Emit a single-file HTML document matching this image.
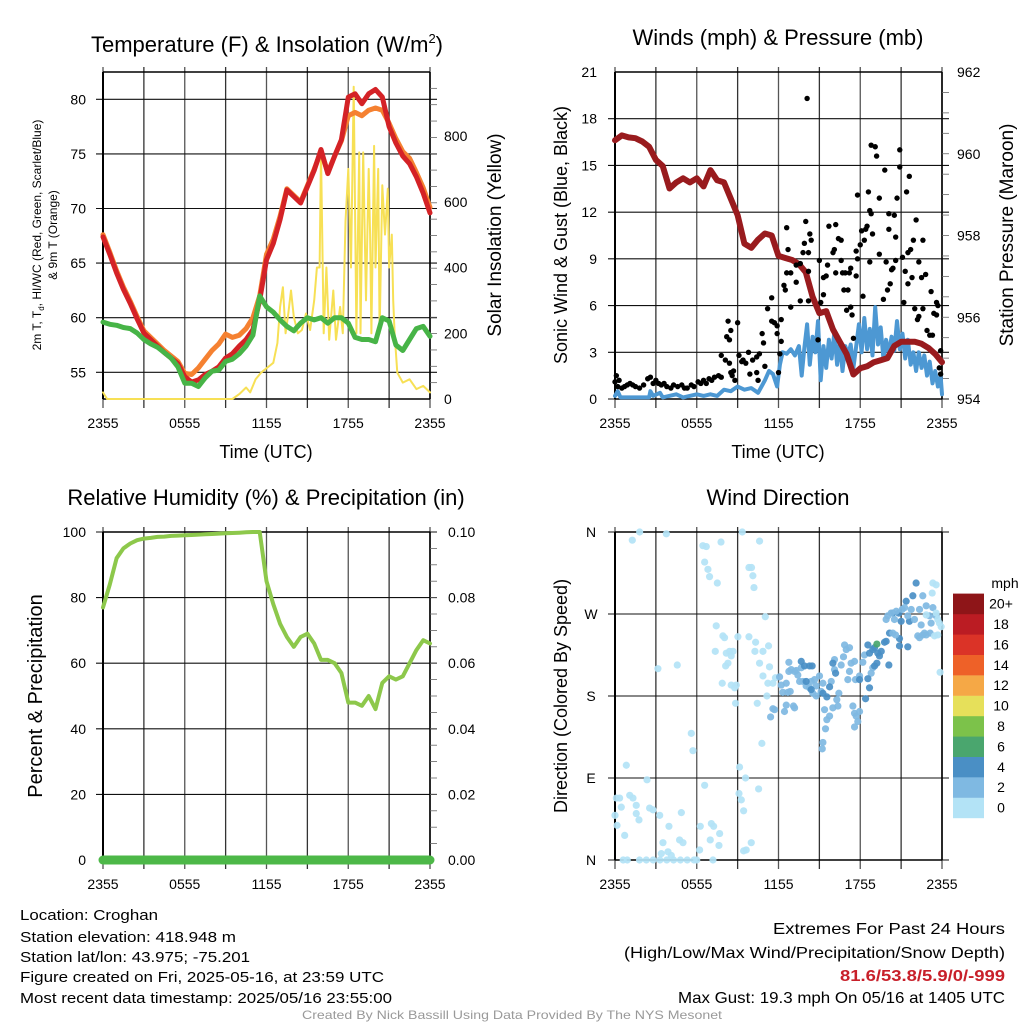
<!DOCTYPE html>
<html><head><meta charset="utf-8"><style>
html,body{margin:0;padding:0;background:#fff;}
svg text{font-family:"Liberation Sans",sans-serif;fill:#000;}
</style></head><body>
<svg id="c" xmlns="http://www.w3.org/2000/svg" width="1024" height="1024" viewBox="0 0 1024 1024">
<rect width="1024" height="1024" fill="#fff"/>
<g id="g"></g>
<text x="267" y="52" font-size="22" text-anchor="middle">Temperature (F) &amp; Insolation (W/m<tspan font-size="13" dy="-9">2</tspan><tspan dy="9">)</tspan></text>
<text x="778" y="45" font-size="22" text-anchor="middle">Winds (mph) &amp; Pressure (mb)</text>
<text x="266" y="505" font-size="22" text-anchor="middle">Relative Humidity (%) &amp; Precipitation (in)</text>
<text x="778" y="505" font-size="22" text-anchor="middle">Wind Direction</text>
<text x="266" y="458" font-size="18" text-anchor="middle">Time (UTC)</text>
<text x="778" y="458" font-size="18" text-anchor="middle">Time (UTC)</text>
<text transform="translate(41,235) rotate(-90)" font-size="12" text-anchor="middle">2m T, T<tspan font-size="8" dy="3">d</tspan><tspan dy="-3">, HI/WC (Red, Green, Scarlet/Blue)</tspan></text>
<text transform="translate(57,235) rotate(-90)" font-size="12" text-anchor="middle">&amp; 9m T (Orange)</text>
<text transform="translate(501,235) rotate(-90)" font-size="19" text-anchor="middle">Solar Insolation (Yellow)</text>
<text transform="translate(567,235) rotate(-90)" font-size="18" text-anchor="middle">Sonic Wind &amp; Gust (Blue, Black)</text>
<text transform="translate(1013,235) rotate(-90)" font-size="19" text-anchor="middle">Station Pressure (Maroon)</text>
<text transform="translate(42,696) rotate(-90)" font-size="20" text-anchor="middle">Percent &amp; Precipitation</text>
<text transform="translate(567,696) rotate(-90)" font-size="18" text-anchor="middle">Direction (Colored By Speed)</text>
<text x="1005" y="588" font-size="14" text-anchor="middle">mph</text>
<g font-size="15">
<text x="20" y="920" textLength="138" lengthAdjust="spacingAndGlyphs">Location: Croghan</text>
<text x="20" y="942" textLength="216" lengthAdjust="spacingAndGlyphs">Station elevation: 418.948 m</text>
<text x="20" y="962" textLength="230" lengthAdjust="spacingAndGlyphs">Station lat/lon: 43.975; -75.201</text>
<text x="20" y="982" textLength="364" lengthAdjust="spacingAndGlyphs">Figure created on Fri, 2025-05-16, at 23:59 UTC</text>
<text x="20" y="1003" textLength="372" lengthAdjust="spacingAndGlyphs">Most recent data timestamp: 2025/05/16 23:55:00</text>
</g>
<g font-size="16">
<text x="773" y="934" textLength="232" lengthAdjust="spacingAndGlyphs">Extremes For Past 24 Hours</text>
<text x="624" y="958" textLength="381" lengthAdjust="spacingAndGlyphs">(High/Low/Max Wind/Precipitation/Snow Depth)</text>
<text x="840" y="981" textLength="165" lengthAdjust="spacingAndGlyphs" font-weight="bold" style="fill:#c8202a">81.6/53.8/5.9/0/-999</text>
<text x="678" y="1003" textLength="327" lengthAdjust="spacingAndGlyphs">Max Gust: 19.3 mph On 05/16 at 1405 UTC</text>
</g>
<text x="302" y="1019" font-size="12" textLength="420" lengthAdjust="spacingAndGlyphs" style="fill:#999">Created By Nick Bassill Using Data Provided By The NYS Mesonet</text>
</svg>
<script>
const timeTicks = ["2355","0555","1155","1755","2355"];
const tempRed = [67.4,65.8,64.1,62.6,61.3,59.9,58.6,58.0,57.4,56.8,56.3,55.8,54.6,54.1,54.3,54.8,55.1,55.5,56.3,56.7,57.4,58.0,58.9,61.6,65.3,66.8,69.0,71.7,71.1,70.5,72.0,73.5,75.4,73.2,74.8,76.3,80.2,80.5,79.6,80.5,80.9,80.2,77.5,76.0,74.8,74.1,72.9,71.4,69.6];
const temp9m = [67.6,66.0,64.3,62.8,61.5,60.1,58.8,58.2,57.6,57.0,56.5,56.0,54.9,54.8,55.4,56.2,57.0,57.6,58.5,58.2,58.4,59.0,60.0,62.0,65.8,67.2,69.3,71.8,71.2,70.6,72.1,73.6,75.2,73.3,74.8,76.2,78.5,78.8,78.5,79.0,79.2,79.0,77.8,76.4,75.2,74.6,73.3,71.9,70.1];
const dewGreen = [59.6,59.4,59.3,59.1,59.0,58.6,58.0,57.6,57.3,56.8,56.3,55.5,54.0,54.0,53.7,54.5,55.1,55.2,56.0,56.2,56.7,57.4,58.4,62.0,61.0,60.5,59.8,59.2,58.8,59.5,60.0,59.8,60.0,59.5,60.0,60.0,59.5,58.2,58.0,58.0,57.8,60.0,59.7,57.5,57.0,58.0,59.0,59.2,58.3];
const solarHours = [0,0.3,9.5,10,10.5,10.8,11.2,11.6,11.9,12.2,12.5,12.8,13.0,13.2,13.4,13.6,13.8,14.0,14.3,14.6,14.9,15.2,15.5,15.7,15.9,16.0,16.2,16.4,16.6,16.9,17.1,17.4,17.6,17.8,18.0,18.2,18.4,18.6,18.8,18.9,19.1,19.3,19.5,19.6,19.7,19.9,20.0,20.2,20.3,20.5,20.7,20.9,21.0,21.2,21.3,21.4,21.6,22,22.5,23,23.5,24];
const solarValues = [20,0,0,15,35,20,60,80,90,100,110,170,280,340,200,260,330,250,200,210,260,210,300,400,400,750,200,400,180,330,180,280,200,540,700,400,950,200,750,200,750,300,700,500,200,770,400,700,200,650,500,640,400,500,300,200,80,50,60,30,40,20];
const pressure = [960.33,960.45,960.4,960.38,960.3,960.17,959.85,959.7,959.15,959.3,959.4,959.3,959.4,959.2,959.6,959.35,959.3,958.9,958.5,957.8,957.7,957.9,958.05,958.0,957.5,957.45,957.4,957.3,957.1,956.5,956.1,956.15,955.7,955.4,955.1,954.6,954.75,954.8,954.9,954.95,955.0,955.3,955.4,955.4,955.4,955.35,955.25,955.1,954.9];
const windHours = [0,0.2,0.4,2.5,2.6,2.8,3.3,3.5,4.5,5,6,6.5,7,7.5,8,8.5,9,9.5,10,10.5,11,11.3,11.6,11.9,12.1,12.3,12.6,12.9,13.2,13.5,13.7,13.9,14.1,14.3,14.5,14.7,14.9,15.1,15.3,15.5,15.7,15.9,16.1,16.3,16.5,16.7,16.9,17.1,17.3,17.5,17.7,17.9,18.1,18.3,18.5,18.7,18.9,19.1,19.3,19.5,19.7,19.9,20.1,20.3,20.5,20.7,20.9,21.1,21.3,21.5,21.7,21.9,22.1,22.3,22.5,22.7,22.9,23.1,23.3,23.5,23.7,23.9,24];
const windSpeed = [0.2,0.5,0.1,0.1,0.5,0.2,0.4,0.1,0.3,0.1,0.3,0.2,0.3,0.2,0.6,0.5,0.8,0.6,0.7,0.4,1.2,1.8,1.6,0.8,2.2,3.0,2.9,3.2,2.8,3.4,1.5,3.3,4.8,2.2,4.0,3.0,5.0,1.2,3.4,2.0,3.8,2.6,4.3,2.2,3.6,1.8,3.4,2.8,3.5,2.0,3.4,4.8,3.0,5.2,3.2,4.5,2.8,5.9,3.5,4.6,2.6,3.8,2.9,4.0,3.1,5.0,3.2,4.2,2.6,3.8,2.2,3.0,1.8,3.0,2.0,2.8,1.5,2.4,1.0,1.8,0.8,1.5,0.3];
const gustHours = [0,0.1,0.2,0.3,0.5,0.7,0.9,1.1,1.3,1.5,1.8,2.1,2.4,2.6,2.8,3.0,3.2,3.4,3.6,3.8,4.1,4.3,4.6,4.9,5.1,5.3,5.6,5.8,6.1,6.3,6.5,6.7,6.9,7.1,7.3,7.6,7.8,7.8,8.1,8.2,8.3,8.4,8.4,8.5,8.5,8.6,8.7,8.8,9.0,9.1,9.3,9.4,9.6,9.8,9.9,10.1,10.4,10.4,10.5,10.6,10.8,10.9,11.0,11.2,11.5,11.5,11.7,11.9,11.9,12.0,12.1,12.2,12.2,12.4,12.5,12.6,12.6,12.7,12.9,12.9,13.3,13.3,13.6,13.6,13.8,13.9,14.0,14.1,14.2,14.2,14.2,14.3,14.4,14.9,15.0,15.1,15.3,15.3,15.5,15.6,15.7,16.0,16.1,16.2,16.2,16.4,16.6,16.6,16.7,16.8,16.9,17.0,17.1,17.2,17.3,17.3,17.4,17.5,17.7,17.7,17.8,17.8,18.0,18.1,18.2,18.3,18.4,18.5,18.6,18.7,18.7,18.8,18.8,18.9,19.1,19.2,19.4,19.4,19.7,19.8,19.9,20.0,20.1,20.1,20.2,20.3,20.4,20.5,20.6,20.6,20.7,20.9,20.9,21.1,21.2,21.3,21.4,21.5,21.5,21.6,21.7,21.8,21.9,22.0,22.1,22.2,22.3,22.3,22.5,22.6,22.6,22.8,22.9,23.1,23.2,23.3,23.4,23.6,23.6,23.7,23.8,23.9,23.9];
const gustSpeed = [1.1,1.5,0.8,1.2,0.7,0.8,0.9,1.0,0.9,0.8,0.7,0.9,1.3,1.4,1.0,1.2,1.0,0.9,1.0,0.8,0.7,0.9,0.8,0.9,0.7,0.7,0.9,0.8,1.1,1.0,1.2,1.0,1.3,1.2,1.4,1.5,1.4,2.8,2.5,4.0,5.0,2.3,3.8,1.7,4.4,1.5,1.8,1.2,4.9,2.8,2.4,2.5,2.3,3.0,1.6,2.5,2.7,1.7,1.2,2.9,4.2,3.6,2.1,5.8,6.5,5.0,4.9,4.7,4.2,1.7,2.9,5.1,3.7,7.3,7.0,8.1,11.0,9.6,8.1,5.9,7.5,8.6,8.7,6.3,9.4,10.0,11.4,19.3,8.2,9.4,6.3,10.6,10.2,3.8,8.9,6.2,6.7,7.8,7.9,8.6,11.1,9.4,9.6,11.2,8.1,10.3,10.2,8.9,8.1,7.0,8.1,5.7,7.0,8.1,5.9,8.4,5.4,3.9,7.9,9.5,9.0,13.1,9.9,10.8,6.6,10.2,10.9,11.1,13.3,12.1,8.8,11.9,16.3,10.6,16.2,15.6,9.3,12.9,6.4,14.7,8.8,7.0,10.9,11.9,7.4,8.3,8.4,11.8,10.4,8.9,12.9,16.0,14.9,9.1,6.2,8.2,13.3,9.4,7.4,14.3,9.6,7.8,10.2,5.8,11.5,5.1,5.3,8.8,7.8,10.2,5.8,8.0,4.4,4.1,6.9,4.1,5.5,6.2,5.4,6.0,2.0,3.1,1.6];
const rhValues = [77,84,92,95,96.5,97.5,98,98.2,98.5,98.6,98.8,98.9,99,99.1,99.2,99.3,99.4,99.5,99.6,99.7,99.8,99.9,100,100,85,78,72,68,65,68,69,66,61,61,60,57,48,48,47,50,46,54,56,55,56,60,64,67,66];
const precipValues = [0,0,0,0,0,0,0,0,0,0,0,0,0,0,0,0,0,0,0,0,0,0,0,0,0];
const dirHours = [1.27,1.81,3.77,0.83,2.35,0.1,0.34,1.08,1.32,1.56,0.46,0,0.15,0.71,1.56,1.76,2.54,2.79,3.28,3.96,3.52,3.4,3.89,4.13,4.74,4.99,4.87,5.6,5.72,6.26,6.21,6.58,7.07,7.24,7.68,6.99,7.63,7.19,0.6,0.9,1.8,2.3,2.8,3.3,3.8,4.3,4.8,5.3,5.8,6.0,6.45,6.7,6.58,6.82,6.94,7.51,7.78,3.15,4.57,7.43,7.92,8.04,7.36,8.17,8.41,8.66,8.53,8.12,8.29,7.87,8.53,8.78,8.9,8.85,9.02,9.34,9.83,10.02,10.12,10.2,10.61,9.83,10.32,10.27,10.86,10.61,11.34,11.27,11.03,9.14,9.58,9.1,9.27,9.44,10.54,10.44,10.0,9.63,9.44,10.78,10.86,11.22,11.15,11.78,11.59,
11.42,11.59,11.71,12.44,12.57,12.32,12.69,12.86,12.57,12.08,12.2,12.76,12.93,13.18,12.76,13.3,13.42,13.67,13.55,13.79,14.03,14.28,14.4,14.65,14.77,14.52,14.77,15.13,15.26,15.01,13.1,13.18,15.38,15.55,15.45,15.26,15.21,15.75,15.99,16.36,16.28,16.43,15.87,16.11,16.11,16.6,16.77,16.97,16.85,17.21,17.33,17.21,17.09,17.65,17.58,17.95,18.19,18.31,17.46,17.58,17.7,17.95,17.82,17.58,18.8,18.92,
13.67,13.91,14.28,14.47,14.03,14.4,15.26,15.55,15.75,15.99,16.19,17.95,18.56,18.68,18.39,18.68,18.92,19.05,19.22,19.41,19.54,19.78,19.9,20.1,20.15,20.39,20.83,21.0,21.61,21.37,21.86,22.1,20.88,20.88,21.49,18.56,19.05,19.29,
19.22,
19.9,20.02,20.27,20.64,20.51,21.25,21.49,21.98,22.35,22.59,22.84,23.08,23.33,23.57,22.47,22.71,22.59,22.35,22.22,22.84,23.13,23.2,20.39,20.59,21.08,21.74,
23.33,23.57,23.28,22.84,23.57,23.69,23.81,23.94,23.45,23.69,23.86];
const dirValues = [351,360,358,104,88,68,68,71,68,60,58,49,38,27,51,44,57,55,49,37,19,7,9,5,22,19,52,139,120,37,11,82,40,37,29,22,16,0,0,0,0,0,0,0,0,0,0,0,0,0,345,344,327,319,311,304,349,210,214,257,246,244,229,227,229,229,224,213,216,194,192,189,192,172,245,360,321,321,312,299,350,245,239,229,229,216,212,235,267,102,90,73,66,54,78,172,19,11,10,128,202,194,180,200,194,
157,166,165,163,170,184,184,185,194,201,192,207,209,207,217,208,203,211,196,196,191,189,196,198,191,183,180,185,194,202,169,167,165,154,144,129,122,158,167,169,176,183,196,209,220,214,223,231,236,233,216,207,198,198,218,202,217,225,169,161,158,163,152,146,205,211,
218,213,213,213,196,187,183,179,190,216,205,198,199,189,177,227,231,213,216,224,229,239,240,214,249,271,271,262,262,284,290,304,243,235,234,236,233,227,
237,
264,268,271,273,264,277,268,264,275,290,279,268,277,268,258,249,247,244,246,247,249,260,249,247,275,275,
304,302,293,269,271,264,260,256,246,247,206];
const dirSpeed = [0.5,0.5,0.5,0.5,0.5,0.5,0.5,0.5,0.5,0.5,0.5,0.5,0.5,0.5,0.5,0.5,0.5,0.5,0.5,0.5,0.5,0.5,0.5,0.5,0.5,0.5,0.5,0.5,0.5,0.5,0.5,0.5,0.5,0.5,0.5,0.5,0.5,0.5,0.5,0.5,0.5,0.5,0.5,0.5,0.5,0.5,0.5,0.5,0.5,0.5,0.5,0.5,0.5,0.5,0.5,0.5,0.5,0.5,0.5,0.5,0.5,0.5,0.5,0.5,0.5,0.5,0.5,0.5,0.5,0.5,0.5,0.5,0.5,0.5,0.5,0.5,0.5,0.5,0.5,0.5,0.5,0.5,0.5,0.5,0.5,0.5,0.5,0.5,0.5,0.5,0.5,0.5,0.5,0.5,0.5,0.5,0.5,0.5,0.5,0.5,0.5,0.5,0.5,0.5,0.5,
2.5,2.5,2.5,2.5,2.5,2.5,2.5,2.5,2.5,2.5,2.5,2.5,2.5,2.5,2.5,2.5,2.5,2.5,2.5,2.5,2.5,2.5,2.5,2.5,2.5,2.5,2.5,2.5,2.5,2.5,2.5,2.5,2.5,2.5,2.5,2.5,2.5,2.5,2.5,2.5,2.5,2.5,2.5,2.5,2.5,2.5,2.5,2.5,2.5,2.5,2.5,2.5,2.5,2.5,2.5,2.5,2.5,2.5,2.5,2.5,2.5,2.5,2.5,2.5,2.5,2.5,
4.5,4.5,4.5,4.5,4.5,4.5,4.5,4.5,4.5,4.5,4.5,4.5,4.5,4.5,4.5,4.5,4.5,4.5,4.5,4.5,4.5,4.5,4.5,4.5,4.5,4.5,4.5,4.5,4.5,4.5,4.5,4.5,4.5,4.5,4.5,4.5,4.5,4.5,
6.5,
2.5,2.5,2.5,2.5,2.5,2.5,2.5,2.5,2.5,2.5,2.5,2.5,2.5,2.5,2.5,2.5,2.5,2.5,2.5,2.5,2.5,2.5,2.5,2.5,2.5,2.5,
0.5,0.5,0.5,0.5,0.5,0.5,0.5,0.5,0.5,0.5,0.5];
const speedLevels = ["0","2","4","6","8","10","12","14","16","18","20+"];
const speedColors = ["#b3e3f6","#7fb9e2","#4a8fc5","#4aa66e","#7cc24a","#e6e05a","#f5a846","#ee6128","#db3327","#bb1c23","#8e1518"];

const NS="http://www.w3.org/2000/svg";
const G=document.getElementById('g');
function el(tag,attrs,parent){const e=document.createElementNS(NS,tag);for(const k in attrs)e.setAttribute(k,attrs[k]);(parent||G).appendChild(e);return e;}
function txt(x,y,s,size,anchor,parent){const t=el('text',{x:x,y:y,'font-size':size,'text-anchor':anchor},parent);t.textContent=s;return t;}

function panel(x0,y0,x1,y1){
  return {x0,y0,x1,y1,
    x:h=>x0+h*(x1-x0)/24,
    y:(v,lo,hi)=>y1-(v-lo)/(hi-lo)*(y1-y0)};
}
function frame(P,name,hLines){
  const g=el('g',{});
  
  
  for(let i=0;i<=8;i++){const xx=P.x(i*3);
    el('line',{x1:xx,x2:xx,y1:P.y0-5,y2:P.y1+9,stroke:i%2?'#333':'#555','stroke-width':1.3},g);}
  hLines.forEach(yy=>el('line',{x1:P.x0-7,x2:P.x1+7,y1:yy,y2:yy,stroke:'#111','stroke-width':1.1},g));
  el('line',{x1:P.x0,x2:P.x1,y1:P.y0,y2:P.y0,stroke:'#000','stroke-width':1.4},g);
  el('line',{x1:P.x0,x2:P.x1,y1:P.y1,y2:P.y1,stroke:'#000','stroke-width':1.4},g);
  el('line',{x1:P.x0,x2:P.x0,y1:P.y0,y2:P.y1,stroke:'#000','stroke-width':2},g);
  el('line',{x1:P.x1,x2:P.x1,y1:P.y0,y2:P.y1,stroke:'#000','stroke-width':1.6},g);
  timeTicks.forEach((t,i)=>{const tt=txt(P.x(i*6),P.y1+29,t,14,'middle',g);
    
    });
  return g;
}
function minorRight(P,n){const g=el('g',{});for(let i=1;i<n;i++){const yy=P.y0+i*(P.y1-P.y0)/n;el('line',{x1:P.x1,x2:P.x1+7,y1:yy,y2:yy,stroke:'#666','stroke-width':0.8},g);}}
function path(pts,color,w,name){
  const p=el('path',{d:'M'+pts.map(p=>p[0].toFixed(1)+','+p[1].toFixed(1)).join('L'),fill:'none',stroke:color,'stroke-width':w,'stroke-linejoin':'round','stroke-linecap':'round'});
  
  
  return p;
}
function series(P,arr,lo,hi){const n=arr.length;return arr.map((v,i)=>[P.x(i*24/(n-1)),P.y(v,lo,hi)]);}

// Panel 1
const P1=panel(103,72,430,399);
const T_LO=80-(399-99.3)/10.92*1, T_HI=T_LO+(399-72)/10.92;
const S_HI=800*(399-72)/263;
const t1=[55,60,65,70,75,80];
frame(P1,'temperature',t1.map(v=>P1.y(v,T_LO,T_HI)));
minorRight(P1,Math.round(S_HI/50));
t1.forEach(v=>{const t=txt(86,P1.y(v,T_LO,T_HI)+5,String(v),14,'end');
  
  });
[0,200,400,600,800].forEach(v=>{const t=txt(444,P1.y(v,0,S_HI)+5,String(v),14,'start');
  
  });
path(solarHours.map((h,i)=>[P1.x(h),P1.y(solarValues[i],0,S_HI)]),'#f7e055',2,'insolation-line');
path(series(P1,temp9m,T_LO,T_HI),'#f58131',5,'temp-9m-line');
path(series(P1,tempRed,T_LO,T_HI),'#d42226',5,'temp-2m-line');
path(series(P1,dewGreen,T_LO,T_HI),'#47b447',5,'dewpoint-line');

// Panel 2
const P2=panel(615,72,942,399);
frame(P2,'wind',[0,3,6,9,12,15,18].map(v=>P2.y(v,0,21)));
minorRight(P2,16);
[0,3,6,9,12,15,18,21].forEach(v=>{const t=txt(597,P2.y(v,0,21)+5,String(v),14,'end');
  
  });
[954,956,958,960,962].forEach(v=>{const t=txt(957,P2.y(v,954,962)+5,String(v),14,'start');
  
  });
path(windHours.map((h,i)=>[P2.x(h),P2.y(windSpeed[i],0,21)]),'#4d98d3',4,'wind-speed-line');
path(series(P2,pressure,954,962),'#991b1e',6,'pressure-line');
gustHours.forEach((h,i)=>{const c=el('circle',{cx:P2.x(h),cy:P2.y(gustSpeed[i],0,21),r:2.7,fill:'#000'});
  
  });

// Panel 3
const P3=panel(103,532,430,860);
frame(P3,'humidity',[20,40,60,80,100].map(v=>P3.y(v,0,100)));
minorRight(P3,20);
[0,20,40,60,80,100].forEach(v=>{const t=txt(86,P3.y(v,0,100)+5,String(v),14,'end');
  
  });
["0.00","0.02","0.04","0.06","0.08","0.10"].forEach((s,i)=>{const t=txt(448,P3.y(i*0.02,0,0.1)+5,s,14,'start');
  
  });
path(series(P3,rhValues,0,100),'#8dc84b',4,'rh-line');
path(series(P3,precipValues,0,0.1),'#4db848',9,'precip-line');

// Panel 4
const P4=panel(615,532,942,860);
frame(P4,'direction',[0,90,180,270,360].map(v=>P4.y(v,0,360)));
["N","E","S","W","N"].forEach((s,i)=>{const t=txt(591,P4.y(i*90,0,360)+5,s,14,'middle');
  
  });
dirHours.forEach((h,i)=>{
  const bin=Math.min(10,Math.floor(dirSpeed[i]/2));
  const c=el('circle',{cx:P4.x(h),cy:P4.y(dirValues[i],0,360),r:3.6,fill:speedColors[bin],'fill-opacity':0.92});
  
  });

// colorbar
const cb=el('g',{});


speedLevels.forEach((s,i)=>{const top=818-(i+1)*20.4;
  const r=el('rect',{x:953,y:top,width:31,height:20.6,fill:speedColors[i]},cb);
  
  
  const t=txt(1001,top+15,s,14,'middle',cb);
  
  });
</script>
</body></html>
